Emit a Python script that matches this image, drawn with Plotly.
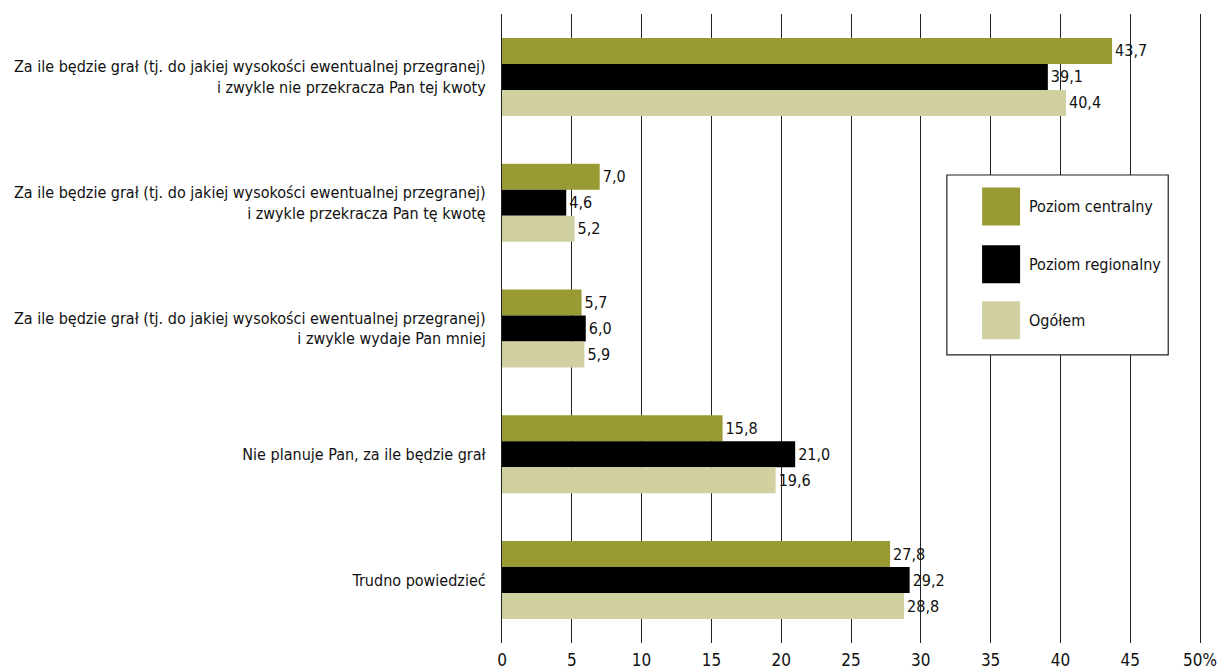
import plotly.graph_objects as go

categories = [
    "Za ile będzie grał (tj. do jakiej wysokości ewentualnej przegranej)<br>i zwykle nie przekracza Pan tej kwoty",
    "Za ile będzie grał (tj. do jakiej wysokości ewentualnej przegranej)<br>i zwykle przekracza Pan tę kwotę",
    "Za ile będzie grał (tj. do jakiej wysokości ewentualnej przegranej)<br>i zwykle wydaje Pan mniej",
    "Nie planuje Pan, za ile będzie grał",
    "Trudno powiedzieć",
]
series_names = ["Poziom centralny", "Poziom regionalny", "Ogółem"]
centralny = [43.7, 7.0, 5.7, 15.8, 27.8]
regionalny = [39.1, 4.6, 6.0, 21.0, 29.2]
ogolem = [40.4, 5.2, 5.9, 19.6, 28.8]
tick_vals = [0, 5, 10, 15, 20, 25, 30, 35, 40, 45, 50]
tick_text = ["0", "5", "10", "15", "20", "25", "30", "35", "40", "45", "50%"]

colors = ["#9a9a35", "#000000", "#d0d0a0"]
FONT = "Liberation Sans Narrow, DejaVu Sans Condensed, sans-serif"

fig = go.Figure()
for name, vals, col in zip(series_names, [centralny, regionalny, ogolem], colors):
    fig.add_trace(go.Bar(
        name=name, y=categories, x=vals, orientation="h",
        marker=dict(color=col, line=dict(width=0)),
        text=[f"{v:.1f}".replace(".", ",") for v in vals],
        textposition="outside", cliponaxis=False,
        textfont=dict(family=FONT, size=16, color="#111"),
        showlegend=False,
    ))

# custom legend box with large colour swatches
PW, PH = 705, 629  # plot area size in px
box_x0, box_x1, box_y0, box_y1 = 0.631, 0.945, 0.458, 0.744
fig.add_shape(type="rect", xref="paper", yref="paper",
              x0=box_x0, x1=box_x1, y0=box_y0, y1=box_y1,
              line=dict(color="#222", width=1.2), fillcolor="white", layer="above")
row_y = [0.694, 0.602, 0.513]
sw_w, sw_h = 38 / PW, 38 / PH
for name, col, yc in zip(series_names, colors, row_y):
    fig.add_shape(type="rect", xref="paper", yref="paper",
                  x0=0.681, x1=0.681 + sw_w, y0=yc - sw_h / 2, y1=yc + sw_h / 2,
                  line=dict(width=0), fillcolor=col, layer="above")
    fig.add_annotation(xref="paper", yref="paper", x=0.745, y=yc, text=name,
                       showarrow=False, xanchor="left", yanchor="middle",
                       font=dict(family=FONT, size=16, color="#111"))

fig.update_layout(
    width=1230, height=672,
    margin=dict(l=502, r=23, t=14, b=29),
    barmode="group", bargap=0.38, bargroupgap=0,
    plot_bgcolor="white", paper_bgcolor="white",
    font=dict(family=FONT, size=16, color="#111"),
    xaxis=dict(range=[0, 50.5], tickvals=tick_vals, ticktext=tick_text,
               showgrid=True, gridcolor="#222", gridwidth=1.2, automargin=False,
               zeroline=False, showline=False,
               ticks="outside", ticklen=2, tickcolor="rgba(0,0,0,0)",
               tickfont=dict(family=FONT, size=17, color="#111")),
    yaxis=dict(categoryorder="array", categoryarray=categories, automargin=False,
               autorange="reversed", showline=True, linecolor="#222", linewidth=1.2,
               ticks="", ticklabelstandoff=12,
               tickfont=dict(family=FONT, size=16, color="#111")),
)

fig.write_html("out.html")
